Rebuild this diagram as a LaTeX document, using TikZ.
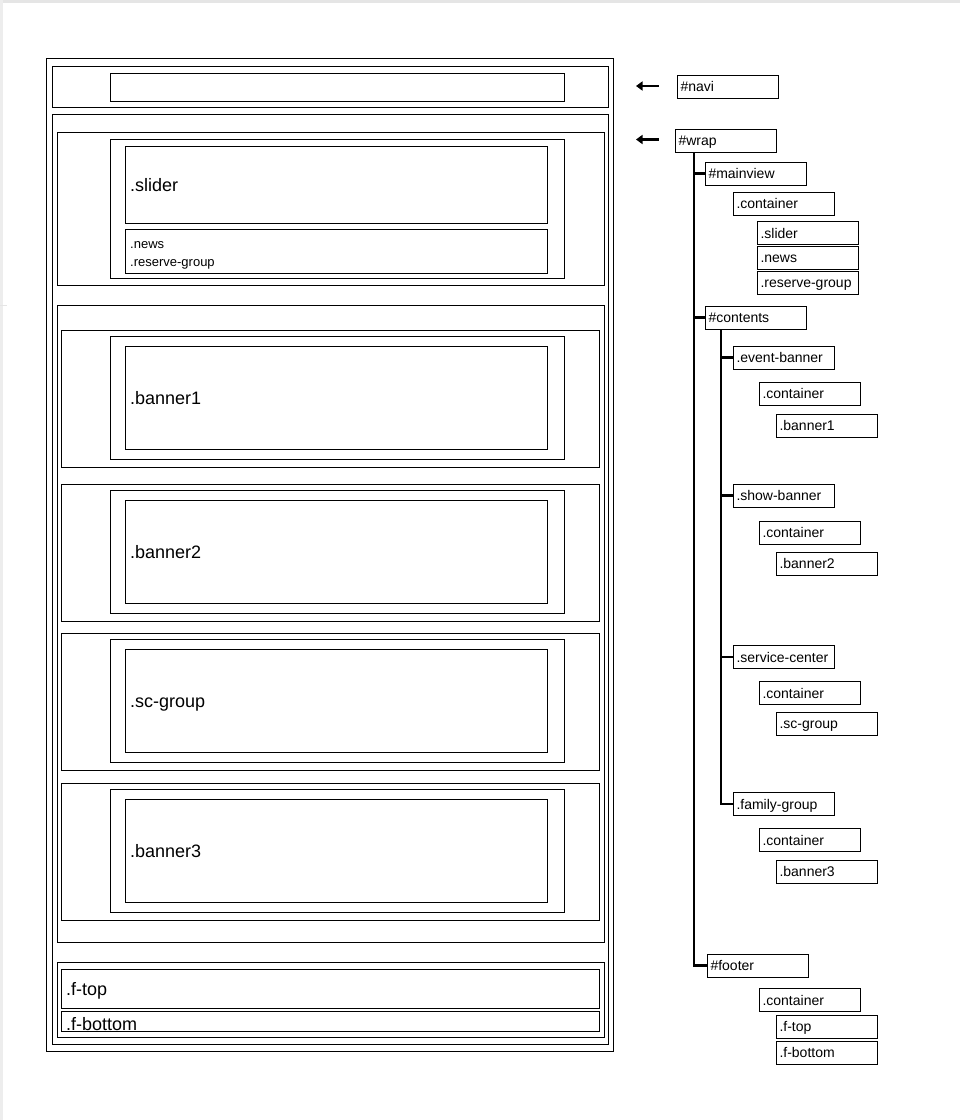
\documentclass[tikz,border=0pt]{standalone}
\usepackage{fontspec}
\setmainfont{Liberation Sans}
\usetikzlibrary{arrows.meta}
\tikzset{
  lb/.style={draw, line width=1pt, inner sep=0pt, outer sep=0pt, anchor=north west},
  tb/.style={draw, line width=1pt, minimum width=101pt, minimum height=23pt, text width=94pt,
     text height=11.5pt, text depth=1.5pt,
     inner xsep=3.5pt, inner ysep=0pt, outer sep=0pt, align=left, anchor=north west,
     font=\fontsize{14}{15}\selectfont},
  biglabel/.style={anchor=base west, inner sep=0pt, font=\fontsize{18}{20}\selectfont},
  smalllabel/.style={anchor=base west, inner sep=0pt, font=\fontsize{13}{15}\selectfont},
  treeline/.style={line width=2.5pt},
  pointer/.style={line width=2.5pt, {Triangle[length=6.5pt,width=9pt]}-}
}
\newcommand\rbox[5]{\node[lb, minimum width={#4-#2}, minimum height={#5-#3}] (#1) at (#2,#3) {};}
\begin{document}
\begin{tikzpicture}[x=1pt,y=-1pt]
\useasboundingbox (0,0) rectangle (960,1120);
\fill[white] (0,0) rectangle (960,1120);
\fill[black!10] (0,0) rectangle (960,3);
\fill[black!7] (0,0) rectangle (3,1120);
\fill[black!10] (0,304.5) rectangle (7,305.5);

% ---------- left layout ----------
\rbox{outer}{46}{58}{613}{1051}
\rbox{navi}{52}{66}{608}{107}
\rbox{navin}{110}{73}{564}{101}
\rbox{wrap}{52}{114.5}{608}{1044}
\rbox{mainview}{57}{132}{604}{285}
\rbox{mvcont}{110}{139}{564}{278}
\rbox{slider}{125}{146}{547}{223}
\rbox{news}{125}{229}{547}{273}
\rbox{contents}{57}{305}{604}{942}
\rbox{eb}{61}{330}{599}{467}
\rbox{ebc}{110}{336}{564}{459}
\rbox{bone}{125}{346}{547}{449}
\rbox{sb}{61}{484}{599}{621}
\rbox{sbc}{110}{490}{564}{613}
\rbox{btwo}{125}{500}{547}{603}
\rbox{sc}{61}{633}{599}{770}
\rbox{scc}{110}{639}{564}{762}
\rbox{scg}{125}{649}{547}{752}
\rbox{fg}{61}{783}{599}{920}
\rbox{fgc}{110}{789}{564}{912}
\rbox{bthree}{125}{799}{547}{902}
\rbox{footer}{57}{962}{604}{1037}
\rbox{ftop}{61}{969}{599}{1008}
\rbox{fbot}{61}{1011}{599}{1031}

\node[biglabel] (lslider) at (130,191) {.slider};
\node[smalllabel] (lnews) at (130,248) {.news};
\node[smalllabel] (lreserve) at (130,266) {.reserve-group};
\node[biglabel] (lbone) at (130,404) {.banner1};
\node[biglabel] (lbtwo) at (130,558) {.banner2};
\node[biglabel] (lscg) at (130,707) {.sc-group};
\node[biglabel] (lbthree) at (130,857) {.banner3};
\node[biglabel] (lftop) at (66,995) {.f-top};
\node[biglabel] (lfbot) at (66,1030) {.f-bottom};

% ---------- right tree ----------
\node[tb] (tnavi) at (677,75) {\#navi};
\node[tb] (twrap) at (675,129) {\#wrap};
\node[tb] (tmain) at (705,162) {\#mainview};
\node[tb] (tmcont) at (733,192) {.container};
\node[tb] (tslider) at (757,221.5) {.slider};
\node[tb] (tnews) at (757,246) {.news};
\node[tb] (treserve) at (757,271) {.reserve-group};
\node[tb] (tcontents) at (705,306) {\#contents};
\node[tb] (teb) at (733,346) {.event-banner};
\node[tb] (tebc) at (759,382) {.container};
\node[tb] (tbone) at (776,414) {.banner1};
\node[tb] (tsb) at (733,484) {.show-banner};
\node[tb] (tsbc) at (759,521) {.container};
\node[tb] (tbtwo) at (776,552) {.banner2};
\node[tb] (tsc) at (733,645.5) {.service-center};
\node[tb] (tscc) at (759,681.5) {.container};
\node[tb] (tscg) at (776,712) {.sc-group};
\node[tb] (tfg) at (733,792.5) {.family-group};
\node[tb] (tfgc) at (759,828.5) {.container};
\node[tb] (tbthree) at (776,860) {.banner3};
\node[tb] (tfooter) at (707,954) {\#footer};
\node[tb] (tfc) at (759,988.5) {.container};
\node[tb] (tftop) at (776,1015) {.f-top};
\node[tb] (tfbot) at (776,1041) {.f-bottom};

\coordinate (trunkA) at ([xshift=19pt]twrap.south west);
\coordinate (trunkB) at ([xshift=16pt]tcontents.south west);
\draw[treeline] (trunkA) |- (tfooter.west);
\draw[treeline] (tmain.west -| trunkA) -- (tmain.west);
\draw[treeline] (tcontents.west -| trunkA) -- (tcontents.west);
\draw[treeline] (trunkB) |- (tfg.west);
\draw[treeline] (teb.west -| trunkB) -- (teb.west);
\draw[treeline] (tsb.west -| trunkB) -- (tsb.west);
\draw[treeline] (tsc.west -| trunkB) -- (tsc.west);

\coordinate (pAstart) at (659,86);
\coordinate (pAend) at (636,86);
\coordinate (pBstart) at (659,139.5);
\coordinate (pBend) at (636,139.5);
\draw[pointer] (pAend) -- (pAstart);
\draw[pointer] (pBend) -- (pBstart);
\end{tikzpicture}
\end{document}
